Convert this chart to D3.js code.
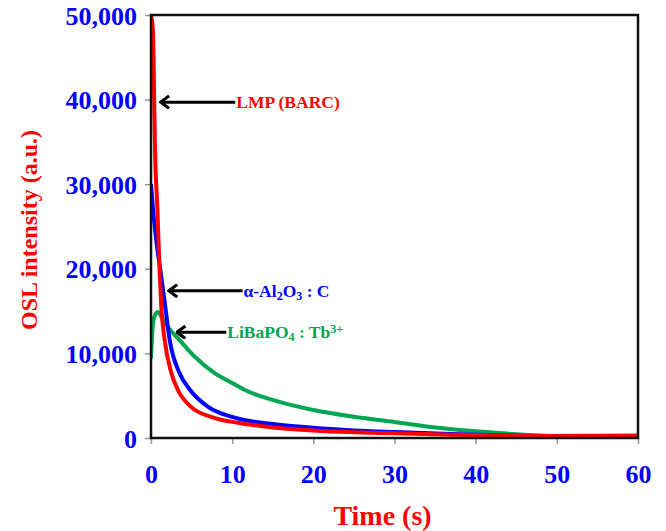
<!doctype html>
<html>
<head>
    <meta charset="UTF-8">
    <title>OSL decay</title>
    <script src="https://cdn.jsdelivr.net/npm/d3@7"></script>
    <style>
        body { margin: 0; background: #fff; }
        text { font-family: "Liberation Serif", "Times New Roman", serif; font-weight: bold; }
    </style>
</head>
<body>
<svg id="chart" width="666" height="531"></svg>
<script>
// time (s) and OSL intensity (a.u.)
var lmpTime = [0, 0.25, 0.4, 0.5, 0.78, 1.07, 1.27, 1.68, 2.5, 3.3, 4.9, 7.4, 10.7, 12.8, 15, 20, 25, 30, 37, 45, 50, 55, 60];
var lmpValue = [50000, 48000, 39500, 34000, 27300, 19500, 15500, 11600, 7700, 5700, 3700, 2500, 1800, 1500, 1250, 880, 670, 550, 380, 260, 250, 280, 300];

var aloTime = [0, 0.3, 0.7, 1.2, 1.76, 2.3, 3.5, 4.8, 7, 10.3, 12.2, 15, 20, 25, 30, 37, 45, 50, 60];
var aloValue = [30000, 26500, 23000, 19500, 15500, 11600, 7700, 5700, 3700, 2400, 2000, 1650, 1200, 900, 700, 460, 280, 220, 150];

var lbpTime = [0, 0.15, 0.4, 0.85, 1.3, 2.1, 3.5, 5.4, 7.8, 10, 11.5, 15, 20, 25, 30, 35, 40, 45, 50, 55, 60];
var lbpValue = [9400, 12500, 14300, 14900, 14300, 13100, 11600, 9600, 7700, 6500, 5700, 4500, 3300, 2500, 1900, 1250, 800, 450, 200, 120, 80];

var xTicks = [0, 10, 20, 30, 40, 50, 60];
var yTicks = [0, 10000, 20000, 30000, 40000, 50000];

var seriesColors = ["#ff0000", "#0000ff", "#00a651"];
// arrow tip (time, intensity) and where the label starts (time)
var noteTipTime = [1.2, 2.2, 3.2];
var noteTipValue = [39700, 17400, 12500];
var noteTextTime = [10.5, 11.4, 9.4];

var w = 666, h = 531;
var m = {top: 15, right: 28, bottom: 93, left: 151};

var svg = d3.select("#chart");

var x = d3.scaleLinear().domain([0, 60]).range([m.left, w - m.right]);
var y = d3.scaleLinear().domain([0, 50000]).range([h - m.bottom, m.top]);

// axes
var xAxis = svg.append("g")
    .attr("transform", "translate(0," + (h - m.bottom) + ")")
    .call(d3.axisBottom(x).tickValues(xTicks).tickSize(6).tickPadding(21));
var yAxis = svg.append("g")
    .attr("transform", "translate(" + m.left + ",0)")
    .call(d3.axisLeft(y).tickValues(yTicks).tickSize(6).tickPadding(8)
        .tickFormat(function(d){ return d === 0 ? "0" : d3.format(",")(d); }));

[xAxis, yAxis].forEach(function(g){
    g.select(".domain").remove();
    g.selectAll(".tick line").attr("stroke", "#999").attr("stroke-width", 1.5);
    g.selectAll(".tick text")
        .attr("fill", "#0000ff")
        .style("font-size", "26px")
        .style("font-family", "'Liberation Serif', serif")
        .style("font-weight", "bold");
});
yAxis.selectAll(".tick text").attr("dy", "0.35em");

// series
var series = [
    {t: lmpTime, v: lmpValue},
    {t: aloTime, v: aloValue},
    {t: lbpTime, v: lbpValue}
];

var line = d3.line()
    .x(function(d){ return x(d[0]); })
    .y(function(d){ return y(d[1]); })
    .curve(d3.curveMonotoneX);

svg.append("clipPath").attr("id", "plotclip")
    .append("rect")
    .attr("x", m.left).attr("y", m.top)
    .attr("width", w - m.left - m.right)
    .attr("height", h - m.top - m.bottom);

// draw green first, red last so red sits on top
[2, 1, 0].forEach(function(i){
    var pts = series[i].t.map(function(t, k){ return [t, series[i].v[k]]; });
    svg.append("path")
        .datum(pts)
        .attr("clip-path", "url(#plotclip)")
        .attr("fill", "none")
        .attr("stroke", seriesColors[i])
        .attr("stroke-width", 4)
        .attr("stroke-linejoin", "round")
        .attr("d", line);
});

// frame
svg.append("rect")
    .attr("x", m.left).attr("y", m.top)
    .attr("width", w - m.left - m.right)
    .attr("height", h - m.top - m.bottom)
    .attr("fill", "none")
    .attr("stroke", "#111")
    .attr("stroke-width", 2.5);

// annotations
svg.append("defs").append("marker")
    .attr("id", "head")
    .attr("viewBox", "0 0 10 10")
    .attr("refX", 9).attr("refY", 5)
    .attr("markerUnits", "userSpaceOnUse")
    .attr("markerWidth", 14).attr("markerHeight", 14)
    .attr("orient", "auto")
    .append("path")
    .attr("d", "M3,0.5 L9,5 L3,9.5")
    .attr("fill", "none")
    .attr("stroke", "#000")
    .attr("stroke-width", 2.2)
    .attr("stroke-linejoin", "miter");

noteTipTime.forEach(function(tt, i){
    var ty = y(noteTipValue[i]);
    svg.append("line")
        .attr("x1", x(noteTextTime[i]) - 1).attr("y1", ty)
        .attr("x2", x(tt)).attr("y2", ty)
        .attr("stroke", "#000")
        .attr("stroke-width", 3)
        .attr("marker-end", "url(#head)");
});

function noteText(i, parts){
    var t = svg.append("text")
        .attr("x", x(noteTextTime[i]))
        .attr("y", y(noteTipValue[i]) + 6)
        .attr("fill", seriesColors[i])
        .style("font-size", "17.5px");
    parts.forEach(function(p){
        var s = t.append("tspan").text(p[0]);
        if (p[1] === "sub") s.attr("baseline-shift", "-25%").style("font-size", "12px");
        if (p[1] === "sup") s.attr("baseline-shift", "40%").style("font-size", "12px");
    });
}
noteText(0, [["LMP (BARC)"]]);
noteText(1, [["α-Al"], ["2", "sub"], ["O"], ["3", "sub"], [" : C"]]);
noteText(2, [["LiBaPO"], ["4", "sub"], [" : Tb"], ["3+", "sup"]]);

// axis titles
svg.append("text")
    .attr("x", (m.left + w - m.right) / 2 - 12)
    .attr("y", 525)
    .attr("text-anchor", "middle")
    .attr("fill", "#ff0000")
    .style("font-size", "28px")
    .text("Time (s)");

svg.append("text")
    .attr("transform", "translate(37,230) rotate(-90)")
    .attr("text-anchor", "middle")
    .attr("fill", "#ff0000")
    .style("font-size", "24px")
    .text("OSL intensity (a.u.)");
</script>
</body>
</html>
